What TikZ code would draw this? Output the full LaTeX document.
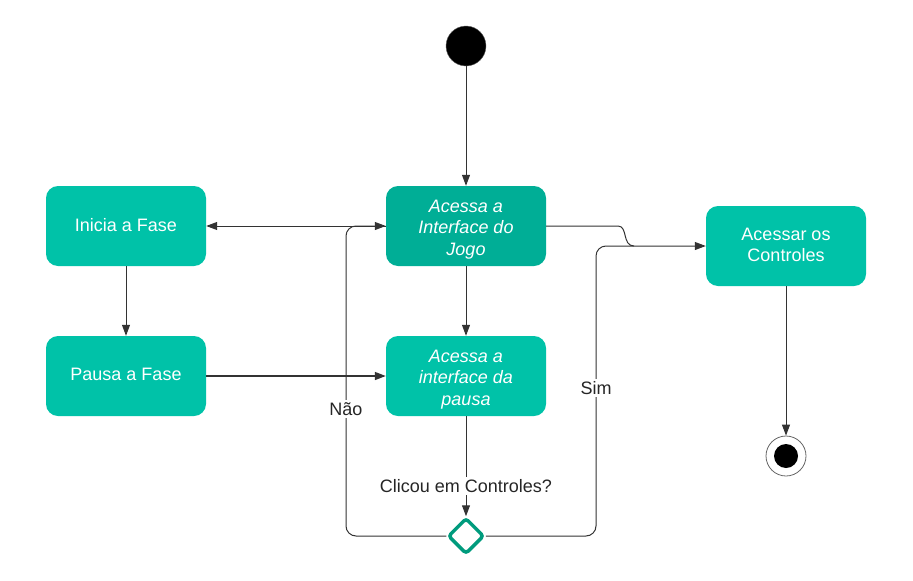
\documentclass[tikz,border=0pt]{standalone}
\usepackage{fontspec}
\setmainfont{Liberation Sans}
\usetikzlibrary{arrows.meta,shapes.geometric}
\definecolor{boxc}{RGB}{0,194,168}
\definecolor{boxd}{RGB}{0,174,150}
\definecolor{diac}{RGB}{0,155,125}
\definecolor{linec}{RGB}{51,51,51}
\tikzset{
  x=1pt,y=-1pt,
  act/.style={rectangle,rounded corners=12pt,minimum width=160pt,minimum height=80pt,inner sep=0pt,text=white,align=center,font=\fontsize{18}{21.5}\selectfont},
  conn/.style={draw=linec,line width=1pt,-{Triangle[length=11pt,width=8pt]}},
  plain/.style={draw=linec,line width=1pt},
  lbl/.style={fill=white,text=black!85,font=\fontsize{18}{20}\selectfont,inner sep=2pt}
}
\begin{document}
\begin{tikzpicture}
\useasboundingbox (0,0) rectangle (913,581);
\node[circle,fill=black,draw=black!60,minimum size=40pt,inner sep=0pt] (start) at (466,46) {};
\node[act,fill=boxc] (inicia) at (126,226) {\raisebox{3pt}{Inicia a Fase}};
\node[act,fill=boxd] (jogo) at (466,226) {\rule{0pt}{19pt}\itshape Acessa a\\\itshape Interface do\\\itshape Jogo};
\node[act,fill=boxc] (ctrl) at (786,246) {\raisebox{2pt}{Acessar os}\\\raisebox{2pt}{Controles}};
\node[act,fill=boxc] (pausa) at (126,376) {\raisebox{3pt}{Pausa a Fase}};
\node[act,fill=boxc] (ipausa) at (466,376) {\rule{0pt}{19pt}\itshape Acessa a\\\itshape interface da\\\itshape pausa};
\node[diamond,draw=diac,line width=3.5pt,fill=white,minimum size=36pt,inner sep=0pt,rounded corners=3pt] (dec) at (466,536) {};
\node[circle,draw=black!60,line width=0.8pt,fill=white,minimum size=40pt,inner sep=0pt] (endo) at (786,456) {};
\node[circle,fill=black,minimum size=24pt,inner sep=0pt] at (endo) {};

\coordinate (nl) at (346,536);
\coordinate (sr) at (596,536);
\coordinate (mj) at (634,246);

\draw[conn] (start) -- (jogo);
\draw[conn] (jogo.west) -- (inicia.east);
\draw[conn] (inicia) -- (pausa);
\draw[conn,line width=1.5pt] (pausa) -- (ipausa);
\draw[conn] (jogo) -- (ipausa);
\draw[plain] (ipausa) -- (466,470);
\draw[conn] (466,470) -- (dec.north);
\node[lbl] (q) at (466,486) {Clicou em Controles?};
\draw[conn,rounded corners=10pt] (dec.west) -- (nl) -- (346,226) -- (jogo.west);
\draw[conn,rounded corners=10pt] (dec.east) -- (sr) -- (596,246) -- (ctrl.west);
\draw[plain] (jogo.east) -- (618,226) .. controls (628,226) and (622,246) .. (mj);
\draw[conn] (ctrl) -- (endo);
\node[lbl] (nao) at (346,409) {Não};
\node[lbl] (sim) at (596,388) {Sim};
\end{tikzpicture}
\end{document}
